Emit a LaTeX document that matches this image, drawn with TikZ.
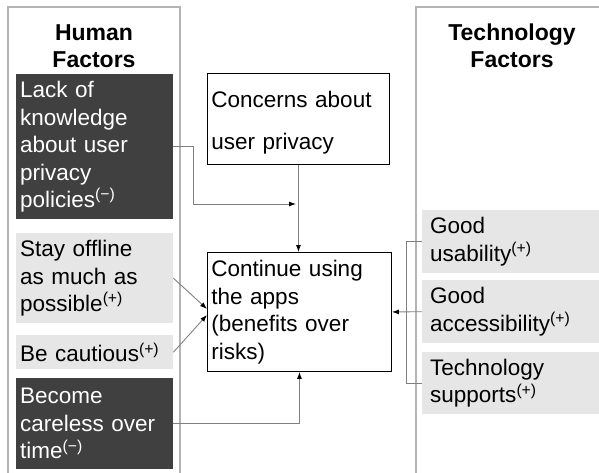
\documentclass[tikz,border=0pt]{standalone}
\usepackage{fontspec}
\setmainfont{Liberation Sans}
\usetikzlibrary{positioning,arrows.meta}

\definecolor{panelgray}{HTML}{B4B4B4}
\definecolor{darkfill}{HTML}{404040}
\definecolor{lightfill}{HTML}{E6E6E6}
\definecolor{linkgray}{HTML}{808080}

\newcommand{\effect}[1]{\textsuperscript{(#1)}}

\tikzset{
  panel/.style={draw=panelgray, line width=1.2pt},
  title/.style={font=\fontsize{23}{27}\selectfont\bfseries, align=center},
  factor/.style={anchor=north west, inner xsep=4pt, inner ysep=0pt, align=left,
    font=\fontsize{22.5}{27.5}\selectfont},
  darkbox/.style={factor, fill=darkfill, text=white},
  lightbox/.style={factor, fill=lightfill},
  mainbox/.style={factor, draw=black, line width=0.9pt, fill=white},
  link/.style={draw=linkgray, line width=0.9pt},
  arr/.style={link, -{Latex[color=black, length=7pt, width=5pt]}}
}

\begin{document}
\begin{tikzpicture}[x=1pt, y=-1pt]

\useasboundingbox (0,0) rectangle (599,473);
\clip (0,0) rectangle (599,473);

% Panels
\draw[panel] (8,7) rectangle (180,490);
\draw[panel] (416,7) rectangle (620,490);

% Titles
\node[title] (human) at (94,46) {Human\\Factors};
\node[title] (tech) at (512,46) {Technology\\Factors};

% Human factors
\node[darkbox, minimum width=157pt, minimum height=145pt, text width=149pt] (lack) at (16,74)
  {Lack of\\knowledge\\about user\\privacy\\policies\effect{−}};
\node[lightbox, minimum width=157pt, minimum height=90pt, text width=149pt] (offline) at (16,233)
  {Stay offline\\as much as\\possible\effect{+}};
\node[lightbox, minimum width=157pt, minimum height=34pt, text width=149pt] (cautious) at (16,335)
  {Be cautious\effect{+}};
\node[darkbox, minimum width=157pt, minimum height=91pt, text width=149pt] (careless) at (16,378)
  {Become\\careless over\\time\effect{−}};

% Centre
\node[mainbox, minimum width=182pt, minimum height=91pt, text width=174pt] (concerns) at (207,73)
  {\rule{0pt}{24pt}Concerns about\\[14pt]user privacy};
\node[mainbox, minimum width=184pt, minimum height=119pt, text width=176pt] (continue) at (207,252)
  {Continue using\\the apps\\(benefits over\\risks)};

% Technology factors
\node[lightbox, inner xsep=8pt, minimum width=200pt, minimum height=63pt, text width=184pt] (usability) at (422,210)
  {Good\\usability\effect{+}};
\node[lightbox, inner xsep=8pt, minimum width=200pt, minimum height=63pt, text width=184pt] (access) at (422,280)
  {Good\\accessibility\effect{+}};
\node[lightbox, inner xsep=8pt, minimum width=200pt, minimum height=62pt, text width=184pt] (support) at (422,352)
  {Technology\\supports\effect{+}};

% Connectors
\coordinate (join) at (298,204);
\draw[arr] (concerns.south) -- (concerns.south |- continue.north);
\draw[arr, shorten >=2pt] (lack.east) -- ++(20,0) |- (join);
\draw[arr] (offline.east) -- ([yshift=3pt]continue.west);
\draw[arr] (cautious.east) -- ([yshift=-3pt]continue.west);
\draw[arr] (careless.east) -| (continue.south);
\draw[link] (usability.west) -- ++(-16,0) |- (support.west);
\draw[arr] (access.west) -- (continue.east);

\end{tikzpicture}
\end{document}
